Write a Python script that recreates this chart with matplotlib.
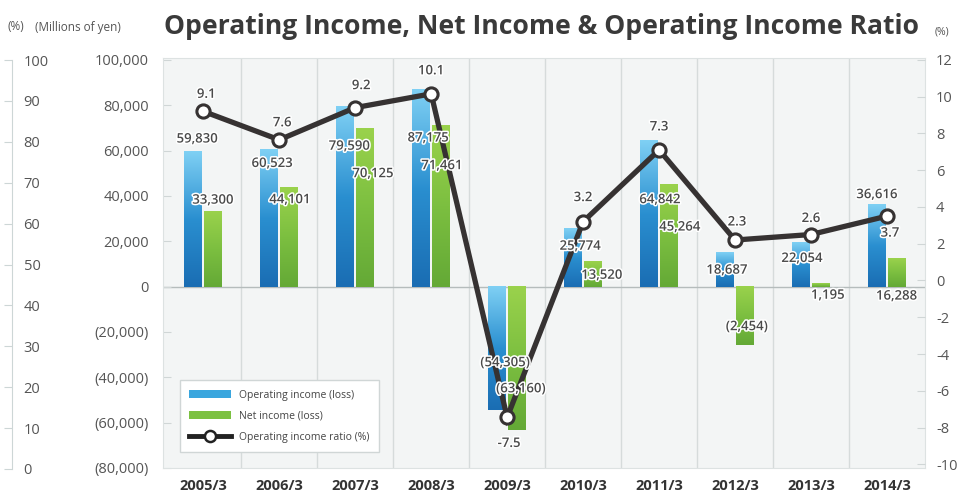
import numpy as np
import matplotlib
matplotlib.use("Agg")
import matplotlib.pyplot as plt
from matplotlib.colors import LinearSegmentedColormap
from matplotlib.patches import Patch
from matplotlib.lines import Line2D
import matplotlib.patheffects as pe

plt.rcParams['font.family'] = ['Open Sans', 'DejaVu Sans']
plt.rcParams['axes.unicode_minus'] = False

# ---- data (millions of yen / %) ----
years = ['2005/3', '2006/3', '2007/3', '2008/3', '2009/3',
         '2010/3', '2011/3', '2012/3', '2013/3', '2014/3']
op_income = [59830, 60523, 79590, 87175, -54305, 25774, 64842, 15200, 19500, 36616]
net_income = [33300, 44101, 70125, 71461, -63160, 11200, 45264, -25600, 1500, 12600]
op_ratio = [9.2, 7.65, 9.4, 10.15, -7.45, 3.2, 7.1, 2.2, 2.5, 3.5]

op_labels = ['59,830', '60,523', '79,590', '87,175', '(54,305)',
             '25,774', '64,842', '18,687', '22,054', '36,616']
net_labels = ['33,300', '44,101', '70,125', '71,461', '(63,160)',
              '13,520', '45,264', '(2,454)', '1,195', '16,288']
ratio_labels = ['9.1', '7.6', '9.2', '10.1', '-7.5', '3.2', '7.3', '2.3', '2.6', '3.7']

left_ticks = [100000, 80000, 60000, 40000, 20000, 0, -20000, -40000, -60000, -80000]
left_ticklabels = ['100,000', '80,000', '60,000', '40,000', '20,000', '0',
                   '(20,000)', '(40,000)', '(60,000)', '(80,000)']
right_ticks = [12, 10, 8, 6, 4, 2, 0, -2, -4, -6, -8, -10]
far_ticks = [0, 10, 20, 30, 40, 50, 60, 70, 80, 90, 100]

# label offsets from bar end / marker, in pixels
op_off = [(4, 12), (3, -14), (4, -40), (7, -49), (8, 47),
          (7, -18), (11, -60), (2, -18), (1, -16), (0, 9)]
net_off = [(0, 11), (1, -13), (8, -46), (1, -41), (4, 41),
           (9, -14), (11, -43), (2, 18), (7, -12), (0, -38)]
ratio_off = [(3, 17), (3, 17), (6, 22), (0, 23), (2, -26),
             (0, 24), (0, 23), (2, 18), (0, 16), (3, -17)]

W, H = 961, 495
fig = plt.figure(figsize=(W / 100, H / 100), dpi=100)
fig.patch.set_facecolor('white')

ax = fig.add_axes([163 / W, 1 - 468 / H, (925 - 163) / W, (468 - 58) / H])
ax.set_facecolor('#f3f5f5')
for s in ax.spines.values():
    s.set_color('#dde2e2')

x = np.arange(len(years))
bw = 0.235
shift = 0.13

blue_cmap = LinearSegmentedColormap.from_list('b', ['#1a6db3', '#2a8fd0', '#7fd0f4'])
green_cmap = LinearSegmentedColormap.from_list('g', ['#64a936', '#7cbf40', '#9ad24c'])
grad = np.linspace(0, 1, 128).reshape(-1, 1)

op_bars = ax.bar(x - shift, op_income, bw, color='none', zorder=2)
net_bars = ax.bar(x + shift, net_income, bw, color='none', zorder=2)
for bars, cmap in ((op_bars, blue_cmap), (net_bars, green_cmap)):
    for b in bars:
        x0, y0 = b.get_x(), b.get_y()
        x1, y1 = x0 + b.get_width(), y0 + b.get_height()
        ax.imshow(grad, extent=[x0, x1, min(y0, y1), max(y0, y1)], origin='lower',
                  aspect='auto', cmap=cmap, zorder=2, interpolation='bilinear')

for xb in x[:-1] + 0.5:
    ax.axvline(xb, color='#d6dbdb', lw=1, zorder=1)
ax.axhline(0, color='#b5bcbc', lw=1, zorder=1)

ax.set_xlim(-0.53, 9.5)
ax.set_ylim(-80000, 100880)
ax.set_yticks(left_ticks)
ax.set_yticklabels(left_ticklabels)
ax.set_xticks(x)
ax.set_xticklabels(years, fontsize=10.5, fontweight='bold', color='#333333')
ax.tick_params(axis='x', length=0, pad=8)
ax.tick_params(axis='y', direction='in', length=6, color='#d0d6d6',
               labelsize=10.5, labelcolor='#555555', pad=10)

ax2 = ax.twinx()
ax2.set_ylim(-10.2, 12.1)
ax2.set_yticks(right_ticks)
ax2.tick_params(axis='y', direction='in', length=6, color='#d0d6d6',
                labelsize=10.5, labelcolor='#555555', pad=8)
for s in ax2.spines.values():
    s.set_visible(False)
ax2.plot(x, op_ratio, color='#363232', lw=3.8, marker='o', ms=9.5,
         mfc='white', mec='#363232', mew=2.2, zorder=3, solid_joinstyle='miter')

halo = [pe.withStroke(linewidth=2.2, foreground='white')]
lab_kw = dict(textcoords='offset pixels', ha='center', va='center', fontsize=9.5,
              fontweight='semibold', color='#4a4a4a', path_effects=halo, zorder=5)
for i in x:
    ax2.annotate(op_labels[i], xy=(i - shift, op_income[i]), xycoords=ax.transData,
                 xytext=op_off[i], **lab_kw)
    ax2.annotate(net_labels[i], xy=(i + shift, net_income[i]), xycoords=ax.transData,
                 xytext=net_off[i], **lab_kw)
    ax2.annotate(ratio_labels[i], xy=(i, op_ratio[i]), xytext=ratio_off[i], **lab_kw)

handles = [Patch(facecolor='#3aa6de', edgecolor='none'),
           Patch(facecolor='#7cc142', edgecolor='none'),
           Line2D([], [], color='#222222', lw=3.5, marker='o', ms=8,
                  mfc='white', mec='#222222', mew=1.8)]
leg = ax2.legend(handles, ['Operating income (loss)', 'Net income (loss)',
                           'Operating income ratio (%)'],
                 loc='lower left', bbox_to_anchor=(0.022, 0.039), borderaxespad=0,
                 fontsize=7.5, handlelength=4, handleheight=0.8, labelspacing=0.95,
                 fancybox=False, framealpha=1, edgecolor='#d0d6d6', borderpad=0.9,
                 handletextpad=0.8)
for t in leg.get_texts():
    t.set_color('#444444')

# far-left percent axis (cut off in the original)
ax3 = fig.add_axes([12 / W, 1 - 469 / H, 0.0005, (469 - 60) / H])
ax3.set_ylim(0, 100)
ax3.set_xticks([])
ax3.set_yticks(far_ticks)
ax3.yaxis.tick_right()
for k, s in ax3.spines.items():
    s.set_visible(k == 'right')
ax3.spines['right'].set_color('#cdd6d6')
ax3.tick_params(axis='y', direction='in', length=6, color='#cdd6d6',
                labelsize=10.5, labelcolor='#555555', pad=8)
ax3.patch.set_visible(False)

fig.text(8 / W, 1 - 27 / H, '(%)', fontsize=8.5, color='#555555', va='center')
fig.text(35 / W, 1 - 27 / H, '(Millions of yen)', fontsize=8.5, color='#555555', va='center')
fig.text(935 / W, 1 - 32 / H, '(%)', fontsize=7.5, color='#555555', va='center')

title = fig.text(541 / W, 1 - 26 / H, 'Operating Income, Net Income & Operating Income Ratio',
                 fontsize=20, fontweight='bold', color='#3a3a3a', ha='center', va='center')
fig.canvas.draw()
tw = title.get_window_extent().width
title.set_fontsize(20 * 753 / tw)

fig.savefig('out.png', dpi=100)
